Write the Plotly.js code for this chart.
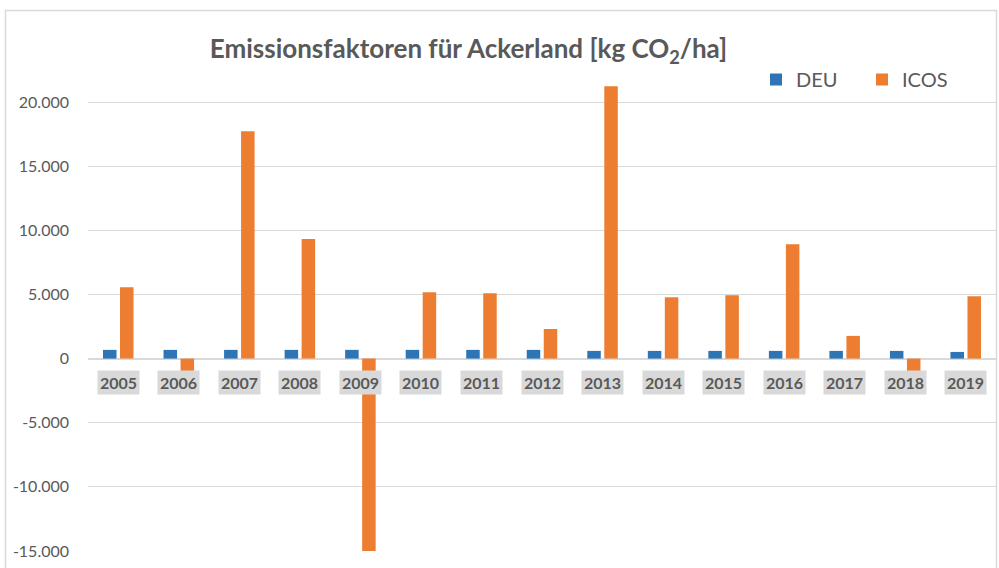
<!DOCTYPE html>
<html>
<head>
<meta charset="utf-8">
<script src="https://cdn.plot.ly/plotly-3.0.1.min.js"></script>
<style>
html,body{margin:0;padding:0;background:#fff;}
#chart{width:999px;height:568px;}
</style>
</head>
<body>
<div id="chart"></div>
<script>
const years = ['2005','2006','2007','2008','2009','2010','2011','2012','2013','2014','2015','2016','2017','2018','2019'];
const deu  = [680, 680, 680, 680, 680, 680, 680, 680, 600, 600, 600, 600, 600, 600, 520];
const icos = [5560, -1100, 17730, 9320, -15000, 5170, 5090, 2310, 21240, 4780, 4940, 8910, 1770, -1000, 4860];
const yTickVals = [-15000, -10000, -5000, 0, 5000, 10000, 15000, 20000];
const yTickText = ['-15.000', '-10.000', '-5.000', '0', '5.000', '10.000', '15.000', '20.000'];

const textColor = '#595959';
const gridColor = '#D9D9D9';

const traces = [
  {type:'bar', name:'DEU', x:years, y:deu, marker:{color:'#2E75B6'}, hoverinfo:'x+y'},
  {type:'bar', name:'ICOS', x:years, y:icos, marker:{color:'#ED7D31'}, hoverinfo:'x+y'}
];

const L = 88, R = 3, T = 70, B = 17, W = 999, H = 568;
const pw = W - L - R, ph = H - T - B;
const px2x = p => (p - L) / pw;
const px2y = p => 1 - (p - T) / ph;

const annotations = years.map((yr, i) => ({
  x: i, y: 0, xref:'x', yref:'y', yshift: -24,
  xanchor:'center', yanchor:'middle',
  text: yr, showarrow:false,
  font:{family:'Lato, sans-serif', size:16, color:textColor, weight:'bold'},
  bgcolor: gridColor, borderpad: 2
}));

const layout = {
  width: W, height: H,
  margin:{l:L, r:R, t:T, b:B},
  paper_bgcolor:'#fff', plot_bgcolor:'#fff',
  font:{family:'Lato, sans-serif', color:textColor},
  title:{
    text:'<b>Emissionsfaktoren für Ackerland [kg CO<sub>2</sub>/ha]</b>',
    font:{family:'Lato, sans-serif', size:26, color:textColor},
    x: 468.5/W, xref:'container', xanchor:'center',
    y: 1 - 49/H, yref:'container', yanchor:'middle'
  },
  barmode:'group', bargap:0.438, bargroupgap:0.206,
  showlegend:true,
  legend:{
    orientation:'h', x: px2x(756), xanchor:'left', y: px2y(79.5), yanchor:'middle',
    font:{family:'Lato, sans-serif', size:20, color:textColor},
    entrywidth:61, entrywidthmode:'pixels', bgcolor:'rgba(0,0,0,0)', itemclick:false
  },
  xaxis:{
    type:'category', range:[-0.5, years.length - 0.5], autorange:false,
    showticklabels:false, showgrid:false, zeroline:false,
    showline:false, ticks:'', fixedrange:true
  },
  yaxis:{
    range:[-15000, 22500], autorange:false, tickvals:yTickVals, ticktext:yTickText,
    showgrid:true, gridcolor:gridColor, gridwidth:1,
    zeroline:true, zerolinecolor:gridColor, zerolinewidth:1.5,
    showline:false, ticks:'', ticklabelstandoff:18,
    tickfont:{family:'Lato, sans-serif', size:16, color:textColor},
    fixedrange:true
  },
  annotations: annotations,
  shapes:[{
    type:'rect', xref:'paper', yref:'paper',
    x0: px2x(5.5), x1: px2x(996.5), y0: px2y(600), y1: px2y(10.5),
    line:{color:gridColor, width:1.5}, fillcolor:'rgba(0,0,0,0)', layer:'below'
  }]
};

Plotly.newPlot('chart', traces, layout, {displayModeBar:false});
</script>
</body>
</html>
